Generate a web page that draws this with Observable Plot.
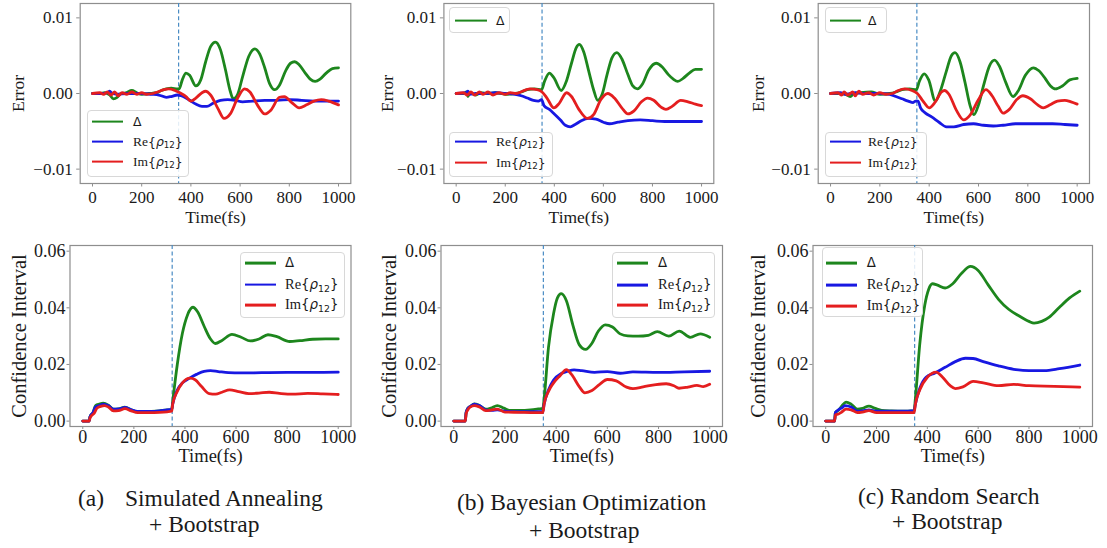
<!DOCTYPE html>
<html>
<head>
<meta charset="utf-8">
<script src="https://cdn.jsdelivr.net/npm/d3@7"></script>
<script src="https://cdn.jsdelivr.net/npm/@observablehq/plot@0.6"></script>
<style>
  html, body { margin: 0; padding: 0; background: #fff; }
  #fig { position: relative; width: 1107px; height: 548px; overflow: hidden; background: #fff;
         font-family: "Liberation Serif", "Times New Roman", serif; color: #1a1a1a; }
  #fig svg { position: absolute; left: 0; top: 0; }
  .legend { position: absolute; box-sizing: border-box; background: rgba(255,255,255,0.85);
            border: 1px solid #d8d8d8; border-radius: 4px; }
  .swatch { position: absolute; height: 2.8px; transform: translateY(-50%); }
  .lab { position: absolute; line-height: 1; white-space: nowrap; transform: translateY(-52%); }
  .m { font-family: "DejaVu Sans", sans-serif; font-size: 0.92em; }
  .m i { font-style: oblique; }
  .m sub { font-size: 0.7em; vertical-align: -0.28em; line-height: 0; }
  .cap { position: absolute; font-size: 23.5px; line-height: 1; white-space: pre; }
</style>
</head>
<body>
<div id="fig"></div>
<script>
// ---- tick values -------------------------------------------------------
const timeTicks = [0, 200, 400, 600, 800, 1000];
const errorTicks = [-0.01, 0, 0.01];
const ciTicks = [0, 0.02, 0.04, 0.06];

// ---- error curves, [time (fs), error] ----------------------------------
const saErrDelta = [[0,0],[30,0],[50,0.0001],[70,-0.0002],[85,-0.0007],[100,-0.0005],[115,0],[135,0.0001],[160,0.0004],[180,0.0001],[200,-0.0001],[230,0],[260,0.0001],[280,0.0004],[300,0.0006],[320,0.0007],[345,0.0006],[352,0.0006],[365,0.0018],[380,0.0027],[395,0.0024],[420,0.001],[440,0.0018],[460,0.0042],[480,0.0062],[500,0.0068],[520,0.0058],[540,0.0032],[560,0.0003],[572,-0.0007],[590,-0.0001],[610,0.0022],[635,0.0049],[660,0.0059],[680,0.0052],[700,0.0034],[720,0.0013],[740,0.0005],[760,0.0011],[785,0.003],[805,0.004],[822,0.0042],[840,0.0038],[865,0.0027],[885,0.0019],[905,0.0016],[925,0.0019],[950,0.0027],[975,0.0033],[1000,0.0034]];
const saErrRe = [[0,0],[40,0],[60,0.0001],[70,0.0003],[80,0],[100,-0.0001],[140,0],[200,0],[240,-0.0001],[270,-0.0002],[300,-0.0005],[320,-0.0004],[345,-0.0002],[360,-0.0003],[380,-0.0006],[400,-0.001],[420,-0.0014],[445,-0.0017],[465,-0.0017],[490,-0.0013],[520,-0.0009],[550,-0.0008],[580,-0.0009],[610,-0.0011],[650,-0.001],[700,-0.0009],[750,-0.0009],[800,-0.0008],[850,-0.0009],[900,-0.001],[950,-0.001],[1000,-0.001]];
const saErrIm = [[0,0],[30,0.0001],[45,-0.0001],[60,0.0002],[75,-0.0002],[90,0.0002],[105,-0.0003],[120,0.0001],[140,-0.0001],[160,0.0002],[180,-0.0001],[200,0.0001],[220,-0.0001],[245,0],[265,0.0002],[290,0.0005],[310,0.0006],[335,0.0004],[355,0.0001],[380,-0.0004],[400,-0.001],[420,-0.0006],[445,0.0001],[460,0.0003],[480,-0.0002],[510,-0.002],[535,-0.0033],[560,-0.0027],[590,-0.0006],[618,0.0006],[640,0.0002],[670,-0.0015],[700,-0.0027],[725,-0.0022],[760,-0.0005],[780,-0.0004],[810,-0.0012],[840,-0.0019],[870,-0.0015],[900,-0.001],[930,-0.0008],[960,-0.001],[1000,-0.0015]];

const boErrDelta = [[0,0],[30,0],[42,0.0002],[48,-0.0004],[55,0.0001],[80,-0.0002],[100,0.0001],[130,0],[160,0.0001],[200,-0.0001],[240,0],[265,0.0002],[290,0.0005],[320,0.0006],[348,0.0005],[360,0.0016],[380,0.0027],[398,0.0021],[428,0.0004],[450,0.0017],[470,0.004],[490,0.0061],[502,0.0065],[520,0.0055],[540,0.003],[560,0.0005],[577,-0.0009],[595,-0.0001],[615,0.0025],[635,0.0047],[655,0.0054],[675,0.0046],[700,0.0025],[720,0.001],[738,0.0006],[760,0.0013],[785,0.0031],[815,0.004],[840,0.0035],[865,0.0025],[885,0.0019],[903,0.0016],[925,0.002],[950,0.0027],[975,0.0032],[1000,0.0032]];
const boErrRe = [[0,0],[40,0.0001],[48,0.0003],[55,-0.0001],[80,0],[120,0],[160,0.0001],[200,0],[240,-0.0001],[265,-0.0003],[290,-0.0006],[315,-0.0009],[335,-0.001],[348,-0.0008],[358,-0.0016],[380,-0.0021],[400,-0.0027],[425,-0.0035],[445,-0.0042],[465,-0.0044],[485,-0.0041],[510,-0.0036],[540,-0.0033],[570,-0.0034],[600,-0.0038],[625,-0.004],[660,-0.0038],[700,-0.0036],[750,-0.0035],[800,-0.0036],[850,-0.0037],[900,-0.0037],[950,-0.0037],[1000,-0.0037]];
const boErrIm = [[0,0],[30,0.0001],[45,-0.0002],[60,0.0002],[75,-0.0002],[95,0.0002],[110,-0.0001],[130,0.0002],[150,-0.0002],[175,0.0001],[200,-0.0001],[220,0.0001],[245,0],[270,0.0003],[300,0.0006],[330,0.0005],[350,0.0002],[370,-0.0006],[398,-0.0019],[420,-0.0013],[450,0.0001],[470,-0.0004],[500,-0.0021],[535,-0.0033],[560,-0.0028],[590,-0.0008],[618,0],[645,-0.0006],[675,-0.0019],[700,-0.0027],[725,-0.0023],[755,-0.0011],[780,-0.0006],[805,-0.0009],[835,-0.0018],[855,-0.0021],[880,-0.0017],[915,-0.0009],[945,-0.0011],[975,-0.0014],[1000,-0.0016]];

const rsErrDelta = [[0,0],[40,0],[60,-0.0001],[80,-0.0004],[95,0],[120,0.0001],[165,0.0002],[200,-0.0001],[240,0],[265,0.0002],[290,0.0005],[320,0.0006],[348,0.0005],[360,0.0016],[380,0.0026],[398,0.0018],[425,-0.001],[445,0.0003],[470,0.003],[490,0.005],[505,0.0054],[525,0.0042],[545,0.0015],[565,-0.0015],[581,-0.0028],[600,-0.0015],[620,0.001],[645,0.0037],[665,0.0044],[685,0.0036],[710,0.0015],[740,-0.0004],[760,0.0003],[790,0.0024],[822,0.0034],[845,0.003],[870,0.002],[892,0.001],[912,0.0006],[940,0.001],[970,0.0018],[1000,0.002]];
const rsErrRe = [[0,0],[40,0.0001],[60,-0.0001],[80,0],[100,0.0001],[140,0],[200,0],[240,-0.0001],[265,-0.0004],[290,-0.0007],[315,-0.001],[335,-0.0012],[345,-0.001],[355,-0.001],[365,-0.0019],[385,-0.0026],[410,-0.0031],[440,-0.0038],[470,-0.0044],[500,-0.0044],[540,-0.0041],[580,-0.004],[620,-0.0042],[660,-0.0043],[700,-0.0042],[750,-0.004],[800,-0.004],[850,-0.004],[900,-0.004],[950,-0.0041],[1000,-0.0042]];
const rsErrIm = [[0,0],[30,0.0001],[45,-0.0002],[55,0.0002],[70,-0.0002],[90,0.0002],[100,-0.0003],[115,0.0003],[130,-0.0001],[155,0.0001],[175,-0.0002],[200,0.0001],[225,-0.0001],[250,0],[275,0.0004],[300,0.0006],[330,0.0004],[352,0],[375,-0.001],[400,-0.0019],[425,-0.0011],[450,0.0002],[462,0.0004],[480,-0.0001],[510,-0.0022],[540,-0.0035],[565,-0.0029],[600,-0.0008],[630,0.0005],[655,-0.0003],[680,-0.0017],[700,-0.0026],[725,-0.0021],[755,-0.0008],[780,-0.0003],[810,-0.0007],[840,-0.0015],[862,-0.0019],[890,-0.0015],[920,-0.001],[950,-0.0009],[975,-0.0011],[1000,-0.0014]];

// ---- confidence-interval curves, [time (fs), width] --------------------
const saCiDelta = [[0,0],[25,0],[28,0.0015],[40,0.003],[50,0.0055],[65,0.006],[80,0.0063],[100,0.0056],[120,0.0042],[140,0.0043],[165,0.0049],[190,0.004],[215,0.0033],[260,0.0034],[300,0.0036],[330,0.004],[348,0.004],[352,0.007],[370,0.02],[390,0.031],[410,0.0375],[431,0.0402],[450,0.0385],[475,0.0335],[500,0.029],[519,0.0274],[545,0.0285],[584,0.0306],[620,0.0296],[656,0.0283],[690,0.029],[725,0.0305],[760,0.0298],[810,0.0281],[850,0.0284],[900,0.0289],[950,0.029],[1000,0.029]];
const saCiRe = [[0,0],[25,0],[28,0.0015],[40,0.003],[50,0.005],[65,0.0055],[80,0.006],[100,0.0055],[120,0.0042],[140,0.0043],[165,0.0048],[190,0.004],[215,0.0034],[260,0.0034],[300,0.0036],[330,0.004],[348,0.0041],[352,0.006],[370,0.011],[390,0.0135],[415,0.015],[445,0.0165],[475,0.0176],[500,0.0178],[530,0.0175],[570,0.0171],[620,0.017],[700,0.0171],[800,0.0172],[900,0.0172],[1000,0.0173]];
const saCiIm = [[0,0],[25,0],[28,0.001],[35,0.002],[45,0.0028],[55,0.0045],[70,0.0052],[85,0.0055],[100,0.005],[120,0.0036],[140,0.0037],[165,0.0044],[190,0.0036],[215,0.003],[260,0.003],[300,0.0031],[330,0.0033],[348,0.0035],[352,0.006],[370,0.0105],[390,0.0135],[420,0.0152],[440,0.0146],[465,0.0122],[495,0.0097],[520,0.0095],[545,0.0102],[575,0.011],[610,0.0104],[650,0.0097],[690,0.0099],[730,0.0102],[770,0.0098],[820,0.0095],[880,0.0098],[940,0.0096],[1000,0.0094]];

const boCiDelta = [[0,0],[45,0],[48,0.003],[55,0.0045],[65,0.0052],[80,0.0061],[100,0.0055],[125,0.0042],[145,0.0046],[170,0.0055],[195,0.0046],[220,0.0038],[260,0.0038],[300,0.004],[330,0.0043],[348,0.0045],[353,0.008],[370,0.026],[390,0.038],[405,0.0435],[420,0.045],[440,0.0425],[465,0.034],[490,0.027],[515,0.0253],[540,0.0275],[565,0.0318],[592,0.034],[620,0.0332],[650,0.0308],[680,0.0301],[720,0.03],[760,0.0303],[795,0.0316],[840,0.03],[881,0.0318],[924,0.0296],[963,0.0308],[1000,0.0296]];
const boCiRe = [[0,0],[45,0],[48,0.003],[55,0.0045],[65,0.0052],[80,0.006],[100,0.0055],[125,0.004],[150,0.0038],[170,0.004],[200,0.0035],[260,0.0033],[300,0.0033],[348,0.0034],[353,0.006],[370,0.011],[390,0.0145],[420,0.0168],[445,0.0176],[470,0.0181],[500,0.0178],[550,0.0172],[600,0.0175],[650,0.0169],[700,0.0174],[800,0.0172],[900,0.0174],[1000,0.0176]];
const boCiIm = [[0,0],[45,0],[48,0.0025],[55,0.004],[65,0.005],[80,0.0055],[100,0.005],[125,0.0037],[145,0.0039],[170,0.0042],[200,0.0032],[260,0.0031],[300,0.003],[348,0.003],[353,0.006],[370,0.0105],[390,0.0135],[415,0.016],[440,0.0182],[460,0.0165],[490,0.0122],[512,0.01],[540,0.0108],[570,0.013],[600,0.0147],[635,0.0142],[675,0.012],[700,0.0115],[740,0.0121],[790,0.0129],[830,0.0132],[860,0.0125],[880,0.0116],[915,0.012],[950,0.0126],[975,0.0122],[1000,0.013]];

const rsCiDelta = [[0,0],[35,0],[38,0.003],[50,0.0038],[65,0.0055],[80,0.0067],[100,0.006],[125,0.0042],[145,0.0045],[170,0.0053],[195,0.0045],[220,0.0038],[260,0.0036],[300,0.0035],[348,0.0037],[353,0.008],[370,0.027],[390,0.041],[405,0.0465],[420,0.0485],[440,0.048],[470,0.047],[500,0.0485],[535,0.0522],[570,0.0546],[600,0.0532],[640,0.048],[680,0.043],[720,0.0395],[760,0.0372],[800,0.0352],[820,0.0346],[850,0.0352],[880,0.0367],[920,0.0402],[960,0.0435],[1000,0.0459]];
const rsCiRe = [[0,0],[35,0],[38,0.003],[50,0.004],[65,0.0048],[75,0.0055],[100,0.005],[125,0.0035],[145,0.0036],[170,0.004],[200,0.0035],[260,0.0035],[300,0.0035],[348,0.0037],[353,0.006],[370,0.0115],[395,0.0155],[430,0.017],[470,0.019],[510,0.021],[550,0.0222],[580,0.0221],[620,0.021],[680,0.0195],[740,0.0183],[800,0.0178],[860,0.0178],[920,0.0185],[1000,0.0198]];
const rsCiIm = [[0,0],[35,0],[38,0.0022],[50,0.0025],[60,0.003],[80,0.0042],[100,0.004],[125,0.003],[145,0.0032],[170,0.0037],[200,0.003],[260,0.003],[300,0.003],[348,0.003],[353,0.006],[370,0.011],[400,0.0155],[435,0.0173],[460,0.0155],[490,0.0125],[510,0.0115],[540,0.0121],[580,0.014],[620,0.0135],[680,0.0125],[740,0.013],[800,0.0125],[900,0.0123],[1000,0.012]];

const switchTime = 350;

// ---- styling -----------------------------------------------------------
const GREEN = "#1d861d", BLUE = "#1818e2", RED = "#e41e1f";
const SPINE = "#8e8e8e", INK = "#1a1a1a";
const W = 1107, H = 548;
const fig = document.getElementById("fig");

const topRow = {
  yDomain: [-0.0119, 0.0119], yTicks: errorTicks, yLabel: "Error",
  tickSize: 3.5, padX: 3.5, padY: 4, tickFont: 17, xLabelFont: 17.5, yLabelFont: 17.5, xLabelDy: 34, frameY: [3, 183]
};
const bottomRow = {
  yDomain: [-0.0019, 0.062], yTicks: ciTicks, yLabel: "Confidence Interval",
  tickSize: 3, padX: 1, padY: 1.5, tickFont: 18, xLabelFont: 18.5, yLabelFont: 20.5, xLabelDy: 30, frameY: [245, 426]
};

const panels = [
  {row: topRow, frameX: [79.7, 350.3], yLabelDx: -61.5, series: [saErrDelta, saErrRe, saErrIm]},
  {row: topRow, frameX: [443.4, 713.3], yLabelDx: -56.7, series: [boErrDelta, boErrRe, boErrIm]},
  {row: topRow, frameX: [817.7, 1089], yLabelDx: -59.4, series: [rsErrDelta, rsErrRe, rsErrIm]},
  {row: bottomRow, frameX: [69.5, 350.5], yLabelDx: -51, series: [saCiDelta, saCiRe, saCiIm]},
  {row: bottomRow, frameX: [440.5, 722], yLabelDx: -52, series: [boCiDelta, boCiRe, boCiIm]},
  {row: bottomRow, frameX: [812.5, 1092], yLabelDx: -55, series: [rsCiDelta, rsCiRe, rsCiIm]}
];

const colors = [GREEN, BLUE, RED];

for (const p of panels) {
  const r = p.row;
  const chart = Plot.plot({
    width: W, height: H,
    marginLeft: p.frameX[0], marginRight: W - p.frameX[1],
    marginTop: r.frameY[0], marginBottom: H - r.frameY[1],
    x: {domain: [-50, 1050]},
    y: {domain: r.yDomain},
    style: {fontFamily: "'Liberation Serif', 'Times New Roman', serif", background: "transparent", overflow: "visible", color: INK},
    marks: [
      Plot.frame({stroke: SPINE, strokeWidth: 1.2}),
      Plot.ruleX([switchTime], {stroke: "#4a8cc4", strokeWidth: 1.2, strokeDasharray: "4,2.6"}),
      ...p.series.map((s, i) => Plot.line(s, {
        x: d => d[0], y: d => d[1], stroke: colors[i], strokeWidth: 2.8, curve: "monotone-x"
      })),
      Plot.axisX(timeTicks, {tickSize: r.tickSize, tickPadding: r.padX, stroke: SPINE, fill: INK,
        fontSize: r.tickFont, tickFormat: d3.format("d"), label: null}),
      Plot.axisY(r.yTicks, {tickSize: r.tickSize, tickPadding: r.padY, stroke: SPINE, fill: INK,
        fontSize: r.tickFont, tickFormat: d3.format(".2f"), label: null}),
      Plot.text(["Time(fs)"], {text: d => d, frameAnchor: "bottom", dy: r.xLabelDy,
        textAnchor: "middle", lineAnchor: "middle", fontSize: r.xLabelFont, fill: INK}),
      Plot.text([r.yLabel], {text: d => d, frameAnchor: "left", rotate: -90, dx: p.yLabelDx,
        textAnchor: "middle", lineAnchor: "middle", fontSize: r.yLabelFont, fill: INK})
    ]
  });
  fig.appendChild(chart);
}

// ---- legends -----------------------------------------------------------
const seriesNames = [
  '<span class="m">Δ</span>',
  'Re<span class="m">{<i>ρ</i><sub>12</sub>}</span>',
  'Im<span class="m">{<i>ρ</i><sub>12</sub>}</span>'
];

const legends = [
  {box: [86.7, 110, 102.3, 66.7], line: [91.7, 122.7], textX: 133, font: 13.5, rows: [[0, 121.7], [1, 141.7], [2, 161.7]]},
  {box: [449, 7, 61, 26.3], line: [455, 486.7], textX: 496, font: 13.5, rows: [[0, 20.7]]},
  {box: [449.3, 131.7, 104, 45], line: [455, 486.7], textX: 496, font: 13.5, rows: [[1, 141.7], [2, 162.7]]},
  {box: [825, 7, 61.7, 26.3], line: [830, 860.5], textX: 868, font: 13.5, rows: [[0, 20.7]]},
  {box: [825, 131.7, 102, 45], line: [830, 860.5], textX: 868, font: 13.5, rows: [[1, 141.7], [2, 162.7]]},
  {box: [240, 251.7, 105, 66], line: [245, 275.5], textX: 285, font: 14.5, rows: [[0, 263.3], [1, 284.5], [2, 305]]},
  {box: [611.7, 251.7, 103.3, 66.6], line: [616.7, 648.3], textX: 658, font: 14.5, rows: [[0, 263.3], [1, 285], [2, 305]]},
  {box: [821.7, 247, 101.6, 70], line: [826, 857.3], textX: 866.7, font: 14.5, rows: [[0, 263.3], [1, 285], [2, 306]]}
];

for (const lg of legends) {
  const box = document.createElement("div");
  box.className = "legend";
  Object.assign(box.style, {left: lg.box[0] + "px", top: lg.box[1] + "px", width: lg.box[2] + "px", height: lg.box[3] + "px"});
  fig.appendChild(box);
  for (const [k, y] of lg.rows) {
    const sw = document.createElement("div");
    sw.className = "swatch";
    Object.assign(sw.style, {left: lg.line[0] + "px", width: (lg.line[1] - lg.line[0]) + "px", top: y + "px", background: colors[k]});
    fig.appendChild(sw);
    const t = document.createElement("div");
    t.className = "lab";
    t.innerHTML = seriesNames[k];
    Object.assign(t.style, {left: lg.textX + "px", top: y + "px", fontSize: lg.font + "px"});
    fig.appendChild(t);
  }
}

// ---- sub-figure captions -----------------------------------------------
const captions = [
  ["(a)", 78, 507], ["Simulated Annealing", 125, 507], ["+ Bootstrap", 149, 533],
  ["(b) Bayesian Optimization", 457, 511], ["+ Bootstrap", 529, 539],
  ["(c) Random Search", 858, 505], ["+ Bootstrap", 892, 530]
];
for (const [txt, x, baseline] of captions) {
  const c = document.createElement("div");
  c.className = "cap";
  c.textContent = txt;
  Object.assign(c.style, {left: x + "px", top: (baseline - 19.7) + "px"});
  fig.appendChild(c);
}
</script>
</body>
</html>
